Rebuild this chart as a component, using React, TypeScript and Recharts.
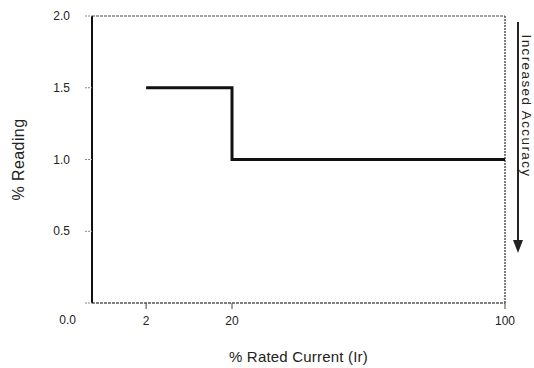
import React from "react";
import { LineChart, Line, XAxis, YAxis, ReferenceLine } from "recharts";

// ---- data ----
const currentPct: number[] = [2, 20, 100]; // % Rated Current (Ir)
const readingPct: number[] = [1.5, 1.0, 1.0]; // % Reading (accuracy class)
const xTicks: number[] = [2, 20, 100];
const yTicks: number[] = [0, 0.5, 1.0, 1.5, 2.0];

const data = currentPct.map((c, i) => ({ current: c, reading: readingPct[i] }));

// The original x axis is schematic (non-linear): build a piecewise-linear scale
const axisKnots = [0, 2, 20, 100];
const axisKnotFractions = [0, 0.131, 0.339, 1];

function piecewiseScale(knots: number[], fracs: number[]): any {
  let dom: number[] = [knots[0], knots[knots.length - 1]];
  let rng: number[] = [0, 1];
  const frac = (v: number) => {
    if (v <= knots[0]) return fracs[0];
    for (let i = 0; i < knots.length - 1; i++) {
      if (v <= knots[i + 1]) {
        const t = (v - knots[i]) / (knots[i + 1] - knots[i]);
        return fracs[i] + t * (fracs[i + 1] - fracs[i]);
      }
    }
    return fracs[fracs.length - 1];
  };
  const s: any = function (v: number) {
    return rng[0] + frac(Number(v)) * (rng[1] - rng[0]);
  };
  s.domain = function (d?: number[]) {
    if (d === undefined) return dom.slice();
    dom = d.slice();
    return s;
  };
  s.range = function (r?: number[]) {
    if (r === undefined) return rng.slice();
    rng = r.slice();
    return s;
  };
  s.copy = function () {
    const c = piecewiseScale(knots, fracs);
    c.domain(dom);
    c.range(rng);
    return c;
  };
  s.ticks = function () {
    return knots.slice(1);
  };
  s.invert = function (px: number) {
    const f = (px - rng[0]) / (rng[1] - rng[0]);
    for (let i = 0; i < fracs.length - 1; i++) {
      if (f <= fracs[i + 1]) {
        const t = (f - fracs[i]) / (fracs[i + 1] - fracs[i]);
        return knots[i] + t * (knots[i + 1] - knots[i]);
      }
    }
    return knots[knots.length - 1];
  };
  return s;
}

const xScale = piecewiseScale(axisKnots, axisKnotFractions);

const FONT = '"Liberation Sans Narrow", "Liberation Sans", Arial, sans-serif';
const TEXT = "#222";

const YTick = (props: any) => {
  const { x, y, payload } = props;
  const zero = payload.value === 0;
  return (
    <text
      x={x + (zero ? 6 : 0)}
      y={y + (zero ? 17 : 0)}
      textAnchor="end"
      dominantBaseline="central"
      fontFamily={FONT}
      fontSize={12}
      fill={TEXT}
    >
      {Number(payload.value).toFixed(1)}
    </text>
  );
};

const YTitle = (props: any) => {
  const vb = props.viewBox;
  const cx = vb.x + 18;
  const cy = vb.y + vb.height / 2;
  return (
    <text
      x={cx}
      y={cy}
      transform={`rotate(-90 ${cx} ${cy})`}
      textAnchor="middle"
      dominantBaseline="central"
      fontFamily={FONT}
      fontSize={16}
      letterSpacing={0.4}
      fill={TEXT}
    >
      % Reading
    </text>
  );
};

const XTitle = (props: any) => {
  const vb = props.viewBox;
  const cx = vb.x + vb.width / 2;
  const cy = vb.y + 53;
  return (
    <text
      x={cx}
      y={cy}
      textAnchor="middle"
      dominantBaseline="central"
      fontFamily={FONT}
      fontSize={15}
      letterSpacing={0.2}
      fill={TEXT}
    >
      % Rated Current (Ir)
    </text>
  );
};

export default function App() {
  return (
    <div style={{ position: "absolute", left: 0, top: 0, width: 534, height: 368, background: "#fff" }}>
      <LineChart
        width={534}
        height={368}
        data={data}
        margin={{ top: 16, right: 29, bottom: 0, left: 0 }}
      >
        <XAxis
          dataKey="current"
          type="number"
          scale={xScale}
          domain={[0, 100]}
          ticks={xTicks}
          height={65}
          axisLine={{ stroke: "#555", strokeWidth: 1.5, strokeDasharray: "3 1" }}
          tickLine={{ stroke: "#444", strokeWidth: 1 }}
          tickSize={6}
          tickMargin={7}
          tick={{ fontFamily: FONT, fontSize: 12, fill: TEXT }}
          label={<XTitle />}
        />
        <YAxis
          type="number"
          domain={[0, 2]}
          ticks={yTicks}
          width={92}
          axisLine={{ stroke: "#111", strokeWidth: 2 }}
          tickLine={{ stroke: "#888", strokeWidth: 1, strokeDasharray: "2 1" }}
          tickSize={7}
          tickMargin={15}
          tick={<YTick />}
          label={<YTitle />}
        />
        <ReferenceLine y={2} stroke="#888" strokeWidth={1.5} strokeDasharray="3 1" />
        <ReferenceLine x={100} stroke="#555" strokeWidth={1.5} strokeDasharray="2 1" />
        <Line
          dataKey="reading"
          type="stepAfter"
          stroke="#111"
          strokeWidth={3}
          dot={false}
          isAnimationActive={false}
        />
      </LineChart>
      <svg
        width={534}
        height={368}
        style={{ position: "absolute", left: 0, top: 0, pointerEvents: "none" }}
      >
        <line x1={518} y1={22} x2={518} y2={244} stroke="#222" strokeWidth={2} />
        <polygon points="513,240 523,240 518,253" fill="#222" />
        <text
          x={522}
          y={106}
          transform="rotate(90 522 106)"
          textAnchor="middle"
          fontFamily={FONT}
          fontSize={13.5}
          letterSpacing={1.4}
          fill={TEXT}
        >
          Increased Accuracy
        </text>
      </svg>
    </div>
  );
}
